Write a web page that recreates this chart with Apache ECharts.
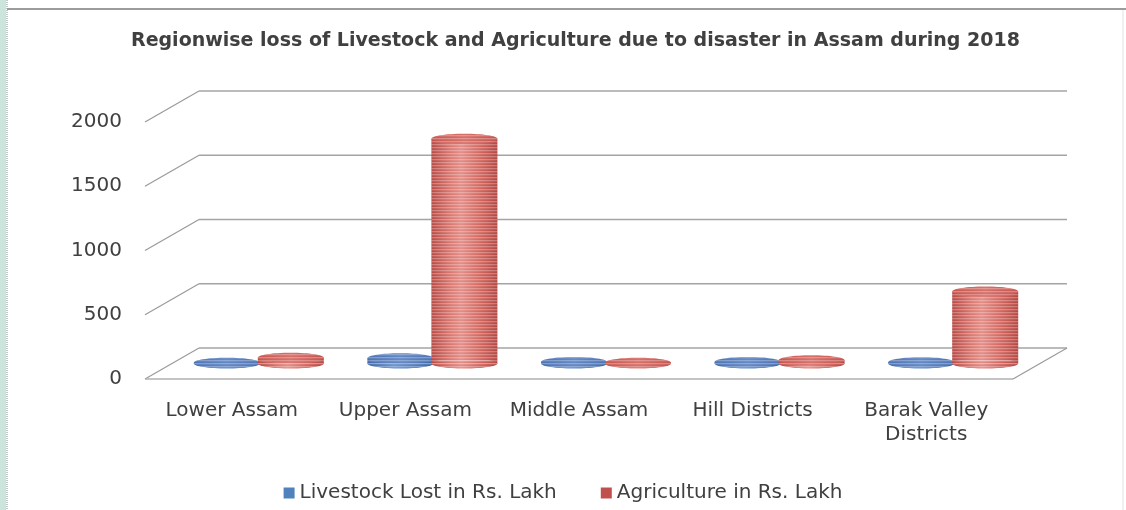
<!DOCTYPE html>
<html>
<head>
<meta charset="utf-8">
<title>Regionwise loss of Livestock and Agriculture due to disaster in Assam during 2018</title>
<script src="https://cdn.jsdelivr.net/npm/echarts@6/dist/echarts.min.js"></script>
<style>
  html, body { margin: 0; padding: 0; background: #ffffff; }
  #chart { width: 1126px; height: 510px; }
</style>
</head>
<body>
<div id="chart"></div>
<script>
// Regions and losses (Rs. Lakh)
const regions = ['Lower Assam', 'Upper Assam', 'Middle Assam', 'Hill Districts', 'Barak Valley\nDistricts'];
const livestockLost = [5, 40, 12, 12, 10];
const agricultureLost = [45, 1750, 5, 25, 560];
const yTicks = [0, 500, 1000, 1500, 2000];

const seriesNames = ['Livestock Lost in Rs. Lakh', 'Agriculture in Rs. Lakh'];
const FONT = 'DejaVu Sans';

// Oblique depth of the pseudo-3D box
const DEPTH_X = 54;
const DEPTH_Y = 31;
const CYL_W = 66;
const CYL_RY = 5;

// Fine horizontal banding laid over the cylinders
function makeStripePattern() {
  const c = document.createElement('canvas');
  c.width = 4; c.height = 3;
  const ctx = c.getContext('2d');
  ctx.fillStyle = 'rgba(255,255,255,0.28)';
  ctx.fillRect(0, 0, 4, 1);
  ctx.fillStyle = 'rgba(255,255,255,0.08)';
  ctx.fillRect(0, 1, 4, 1);
  return { image: c, repeat: 'repeat' };
}
const stripes = makeStripePattern();

const lg = echarts.graphic.LinearGradient;
const palettes = {
  blue: {
    body: () => new lg(0, 0, 1, 0, [
      { offset: 0, color: '#3f67a5' }, { offset: 0.4, color: '#6d95cf' },
      { offset: 0.7, color: '#5a82c0' }, { offset: 1, color: '#3d65a2' }]),
    top: () => new lg(0, 0, 1, 0, [
      { offset: 0, color: '#4e74b4' }, { offset: 0.5, color: '#6489c6' }, { offset: 1, color: '#4e74b4' }])
  },
  red: {
    body: () => new lg(0, 0, 1, 0, [
      { offset: 0, color: '#b84a45' }, { offset: 0.3, color: '#dc7a73' },
      { offset: 0.45, color: '#e48e88' }, { offset: 0.75, color: '#d2665f' }, { offset: 1, color: '#b44742' }]),
    top: () => new lg(0, 0, 1, 0, [
      { offset: 0, color: '#c8574f' }, { offset: 0.5, color: '#d8716b' }, { offset: 1, color: '#c7554f' }])
  }
};

// Cylinder mark: sits mid-depth in the box, side by side within its category
function cylinderRenderer(offsetX, palette) {
  return function (params, api) {
    const idx = api.value(0);
    const val = api.value(1);
    const base = api.coord([idx, 0]);
    const top = api.coord([idx, val]);
    const cx = base[0] + DEPTH_X / 2 + offsetX;
    const yb = base[1] - DEPTH_Y / 2;
    const yt = top[1] - DEPTH_Y / 2;
    const rx = CYL_W / 2;
    const h = Math.max(yb - yt, 0);
    return {
      type: 'group',
      children: [
        { type: 'ellipse', shape: { cx: cx, cy: yb, rx: rx, ry: CYL_RY }, style: { fill: palette.body() } },
        { type: 'rect', shape: { x: cx - rx, y: yt, width: CYL_W, height: h }, style: { fill: palette.body() } },
        { type: 'ellipse', shape: { cx: cx, cy: yb, rx: rx, ry: CYL_RY }, style: { fill: stripes } },
        { type: 'rect', shape: { x: cx - rx, y: yt, width: CYL_W, height: h }, style: { fill: stripes } },
        { type: 'ellipse', shape: { cx: cx, cy: yt, rx: rx, ry: CYL_RY }, style: { fill: palette.top() } },
        { type: 'ellipse', shape: { cx: cx, cy: yt, rx: rx, ry: CYL_RY }, style: { fill: stripes } }
      ]
    };
  };
}

// Back wall gridlines, left-side diagonals and the floor outline
function frameRenderer(params, api) {
  const v = api.value(0);
  const cs = params.coordSys;
  const x0 = cs.x, x1 = cs.x + cs.width;
  const y = api.coord([0, v])[1];
  const children = [
    { type: 'line', shape: { x1: x0, y1: y, x2: x0 + DEPTH_X, y2: y - DEPTH_Y }, style: { stroke: '#9a9a9a', lineWidth: 1.2 } },
    { type: 'line', shape: { x1: x0 + DEPTH_X, y1: y - DEPTH_Y, x2: x1 + DEPTH_X, y2: y - DEPTH_Y }, style: { stroke: '#a4a4a4', lineWidth: 1.7 } }
  ];
  if (v === 0) {
    children.push(
      { type: 'line', shape: { x1: x0, y1: y, x2: x1, y2: y }, style: { stroke: '#b0b0b0', lineWidth: 1.6 } },
      { type: 'line', shape: { x1: x1, y1: y, x2: x1 + DEPTH_X, y2: y - DEPTH_Y }, style: { stroke: '#9a9a9a', lineWidth: 1.2 } }
    );
  }
  return { type: 'group', children: children };
}

const chart = echarts.init(document.getElementById('chart'), null, { renderer: 'canvas' });

chart.setOption({
  backgroundColor: '#ffffff',
  animation: false,
  title: {
    text: 'Regionwise loss of Livestock and Agriculture due to disaster in Assam during 2018',
    left: 126,
    top: 27,
    textStyle: { fontFamily: FONT, fontSize: 19, fontWeight: 'bold', color: '#404040' }
  },
  legend: {
    data: seriesNames.map(n => ({ name: n, icon: 'rect' })),
    left: 'center',
    top: 478,
    itemWidth: 11,
    itemHeight: 11,
    itemGap: 44,
    textStyle: { fontFamily: FONT, fontSize: 20, color: '#404040' }
  },
  graphic: [
    { type: 'rect', shape: { x: 0, y: 0, width: 6, height: 510 }, style: { fill: '#cbe5dd' }, silent: true },
    { type: 'line', shape: { x1: 7, y1: 0, x2: 7, y2: 510 }, style: { stroke: '#a9b8b3', lineWidth: 1.5, lineDash: [1, 1] }, silent: true },
    { type: 'line', shape: { x1: 7, y1: 9, x2: 1126, y2: 9 }, style: { stroke: '#9c9c9c', lineWidth: 2 }, silent: true },
    { type: 'line', shape: { x1: 1123, y1: 10, x2: 1123, y2: 510 }, style: { stroke: '#e2e2e2', lineWidth: 1 }, silent: true }
  ],
  grid: { left: 145, top: 122, width: 868, height: 257 },
  xAxis: {
    type: 'category',
    data: regions,
    axisLine: { show: false },
    axisTick: { show: false },
    splitLine: { show: false },
    axisLabel: { margin: 20, fontFamily: FONT, fontSize: 20, lineHeight: 24, color: '#404040', interval: 0 }
  },
  yAxis: {
    type: 'value',
    min: 0,
    max: 2000,
    interval: 500,
    axisLine: { show: false },
    axisTick: { show: false },
    splitLine: { show: false },
    axisLabel: { margin: 23, fontFamily: FONT, fontSize: 20, color: '#404040', formatter: v => String(v) }
  },
  series: [
    {
      type: 'custom',
      name: 'frame',
      silent: true,
      renderItem: frameRenderer,
      data: yTicks.map(v => [v]),
      encode: { y: 0 },
      z: 1
    },
    {
      type: 'custom',
      name: seriesNames[0],
      itemStyle: { color: '#4f81bd' },
      renderItem: cylinderRenderer(-32, palettes.blue),
      data: livestockLost.map((v, i) => [i, v]),
      encode: { x: 0, y: 1 },
      z: 2
    },
    {
      type: 'custom',
      name: seriesNames[1],
      itemStyle: { color: '#c0504d' },
      renderItem: cylinderRenderer(32, palettes.red),
      data: agricultureLost.map((v, i) => [i, v]),
      encode: { x: 0, y: 1 },
      z: 3
    }
  ]
});
</script>
</body>
</html>
